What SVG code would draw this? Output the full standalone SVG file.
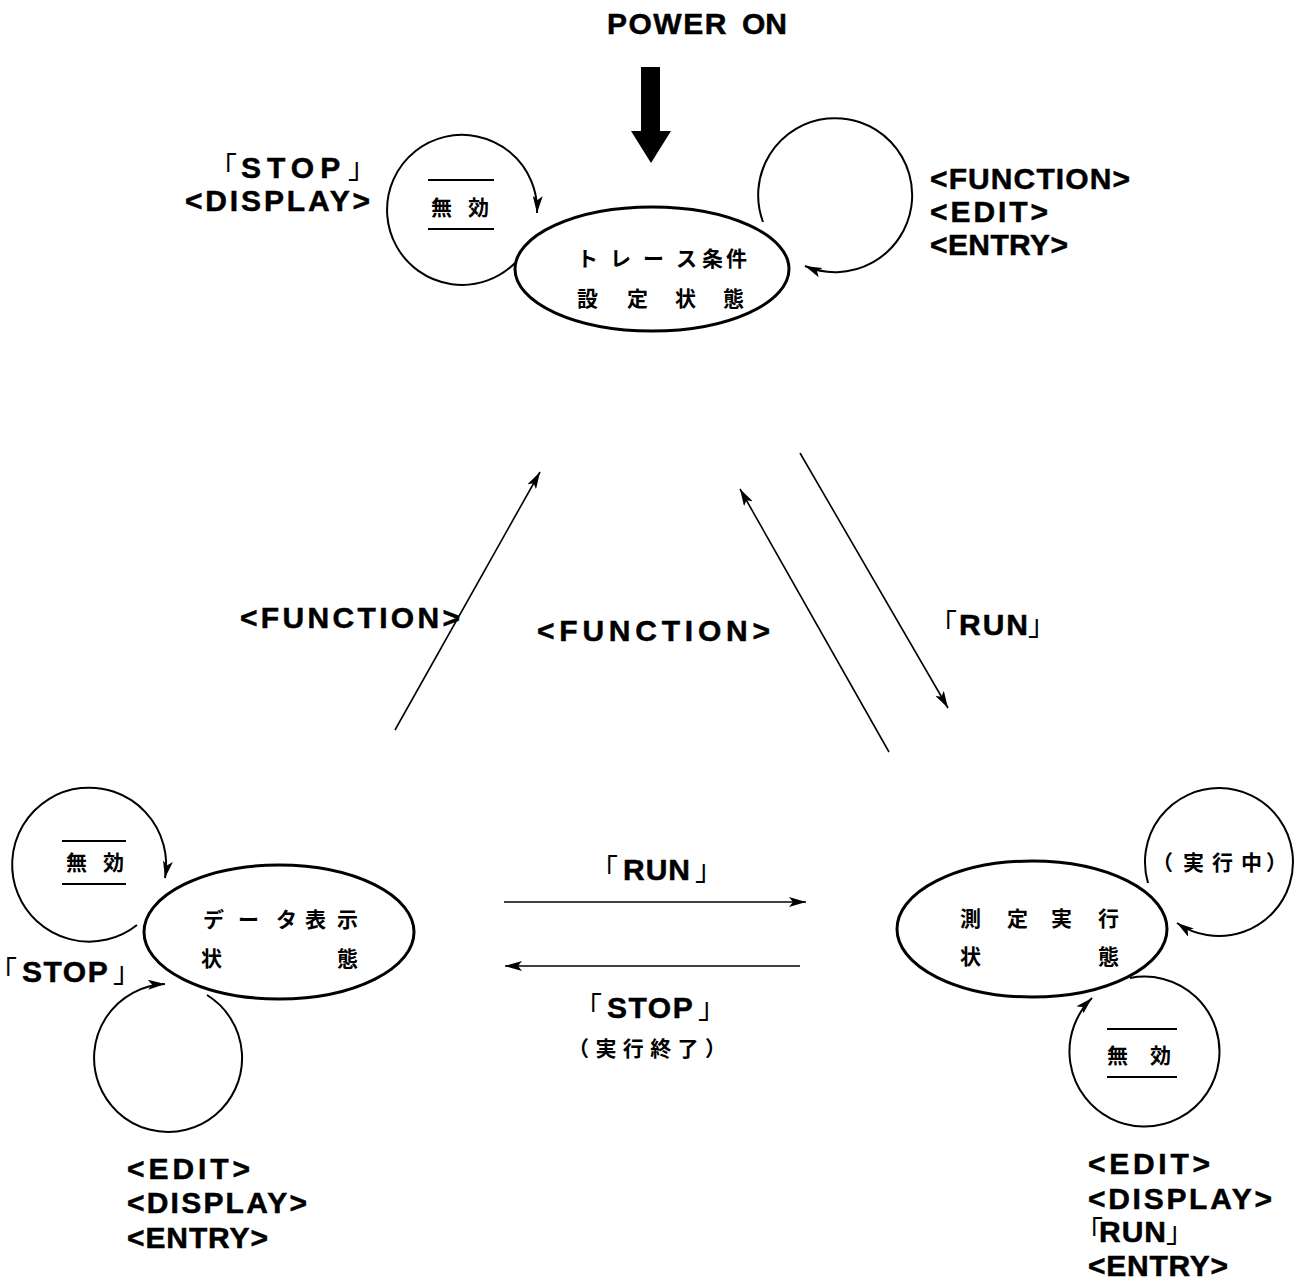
<svg xmlns="http://www.w3.org/2000/svg" width="1302" height="1282" viewBox="0 0 1302 1282">
  <style>
    .lbl { font-family: "Liberation Sans", "Noto Sans CJK JP", sans-serif; font-weight: bold; font-size: 30px; fill: #000; stroke: #000; stroke-width: 0.5; }
    .brk { font-family: "Noto Sans CJK JP", sans-serif; font-weight: normal; font-size: 28px; stroke: none; font-feature-settings: "halt"; }
    .jp { font-family: "Noto Sans CJK JP", sans-serif; font-weight: bold; font-size: 21px; fill: #000; }
    .state { fill: none; stroke: #000; stroke-width: 3; }
    .loop { fill: none; stroke: #000; stroke-width: 2; }
    .edge { fill: none; stroke: #000; stroke-width: 1.6; }
    .bar { stroke: #000; stroke-width: 2; }
  </style>
  <defs>
    <marker id="head" markerUnits="userSpaceOnUse" markerWidth="20" markerHeight="10" refX="17" refY="5" orient="auto">
      <path d="M0,0 L17,5 L0,10 L4,5 z" fill="#000"/>
    </marker>
  </defs>
  <rect width="1302" height="1282" fill="#fff"/>

  <!-- power-on entry -->
  <g id="power-on">
    <text class="lbl" font-size="27" y="34"><tspan x="607" letter-spacing="1.5">POWER</tspan><tspan x="742">ON</tspan></text>
    <path d="M641,67 H660 V131 H671 L651,163 L631,131 H641 Z" fill="#000"/>
  </g>

  <!-- trace condition setting state -->
  <g id="state-trace-setup">
    <ellipse class="state" cx="652" cy="269" rx="137" ry="62"/>
    <text class="jp"><tspan x="577" y="266">ト</tspan><tspan x="610" y="266">レ</tspan><tspan x="643" y="266">ー</tspan><tspan x="676" y="266">ス</tspan><tspan x="702" y="266">条</tspan><tspan x="726" y="266">件</tspan></text>
    <text class="jp"><tspan x="577" y="306">設</tspan><tspan x="627" y="306">定</tspan><tspan x="675" y="306">状</tspan><tspan x="723" y="306">態</tspan></text>
  </g>

  <!-- data display state -->
  <g id="state-data-display">
    <ellipse class="state" cx="279" cy="932" rx="135" ry="67"/>
    <text class="jp"><tspan x="203" y="927">デ</tspan><tspan x="238" y="927">ー</tspan><tspan x="276" y="927">タ</tspan><tspan x="305" y="927">表</tspan><tspan x="337" y="927">示</tspan></text>
    <text class="jp"><tspan x="201" y="966">状</tspan><tspan x="337" y="966">態</tspan></text>
  </g>

  <!-- measurement running state -->
  <g id="state-measuring">
    <ellipse class="state" cx="1032" cy="929" rx="135" ry="68"/>
    <text class="jp"><tspan x="960" y="926">測</tspan><tspan x="1007" y="926">定</tspan><tspan x="1051" y="926">実</tspan><tspan x="1098" y="926">行</tspan></text>
    <text class="jp"><tspan x="960" y="964">状</tspan><tspan x="1098" y="964">態</tspan></text>
  </g>

  <!-- self-loop annotations -->
  <g id="note-top-invalid">
    <line class="bar" x1="428" y1="180" x2="494" y2="180"/>
    <text class="jp"><tspan x="431" y="215">無</tspan><tspan x="468" y="215">効</tspan></text>
    <line class="bar" x1="428" y1="229" x2="494" y2="229"/>
  </g>
  <g id="note-left-invalid">
    <line class="bar" x1="62" y1="841" x2="126" y2="841"/>
    <text class="jp"><tspan x="66" y="870">無</tspan><tspan x="103" y="870">効</tspan></text>
    <line class="bar" x1="62" y1="884" x2="126" y2="884"/>
  </g>
  <g id="note-right-invalid">
    <line class="bar" x1="1107" y1="1029" x2="1177" y2="1029"/>
    <text class="jp"><tspan x="1107" y="1063">無</tspan><tspan x="1150" y="1063">効</tspan></text>
    <line class="bar" x1="1107" y1="1077" x2="1177" y2="1077"/>
  </g>
  <g id="note-running">
    <text class="jp"><tspan x="1152" y="870">（</tspan><tspan x="1183" y="870">実</tspan><tspan x="1212" y="870">行</tspan><tspan x="1241" y="870">中</tspan><tspan x="1266" y="870">）</tspan></text>
  </g>

  <!-- key labels -->
  <g id="labels">
    <text class="lbl" y="178"><tspan class="brk" x="223">「</tspan><tspan x="241" letter-spacing="6">STOP</tspan><tspan class="brk" x="348">」</tspan></text>
    <text class="lbl" x="185" y="211" textLength="185" lengthAdjust="spacing">&lt;DISPLAY&gt;</text>

    <text class="lbl" x="930" y="189" textLength="200" lengthAdjust="spacing">&lt;FUNCTION&gt;</text>
    <text class="lbl" x="930" y="222" textLength="118" lengthAdjust="spacing">&lt;EDIT&gt;</text>
    <text class="lbl" x="930" y="255" textLength="138" lengthAdjust="spacing">&lt;ENTRY&gt;</text>

    <text class="lbl" font-size="28" x="240" y="628" textLength="220" lengthAdjust="spacing">&lt;FUNCTION&gt;</text>
    <text class="lbl" font-size="28" x="537" y="641" textLength="233" lengthAdjust="spacing">&lt;FUNCTION&gt;</text>
    <text class="lbl" y="635"><tspan class="brk" x="943">「</tspan><tspan x="959" letter-spacing="2">RUN</tspan><tspan class="brk" x="1028">」</tspan></text>

    <text class="lbl" y="880"><tspan class="brk" x="604">「</tspan><tspan x="623" letter-spacing="1">RUN</tspan><tspan class="brk" x="695">」</tspan></text>
    <text class="lbl" y="1018"><tspan class="brk" x="588">「</tspan><tspan x="607" letter-spacing="1.5">STOP</tspan><tspan class="brk" x="698">」</tspan></text>
    <text class="jp" x="568" y="1056" textLength="158" lengthAdjust="spacing">（実行終了）</text>

    <text class="lbl" y="982"><tspan class="brk" x="3">「</tspan><tspan x="22" letter-spacing="1.5">STOP</tspan><tspan class="brk" x="113">」</tspan></text>

    <text class="lbl" x="127" y="1179" textLength="123" lengthAdjust="spacing">&lt;EDIT&gt;</text>
    <text class="lbl" x="127" y="1213" textLength="180" lengthAdjust="spacing">&lt;DISPLAY&gt;</text>
    <text class="lbl" x="127" y="1248" textLength="141" lengthAdjust="spacing">&lt;ENTRY&gt;</text>

    <text class="lbl" x="1088" y="1174" textLength="122" lengthAdjust="spacing">&lt;EDIT&gt;</text>
    <text class="lbl" x="1088" y="1209" textLength="184" lengthAdjust="spacing">&lt;DISPLAY&gt;</text>
    <text class="lbl" font-size="28" y="1242"><tspan class="brk" font-size="24" x="1089">「</tspan><tspan x="1099" letter-spacing="1">RUN</tspan><tspan class="brk" font-size="24" x="1166">」</tspan></text>
    <text class="lbl" x="1088" y="1276" textLength="140" lengthAdjust="spacing">&lt;ENTRY&gt;</text>
  </g>

  <!-- transitions -->
  <g id="connectors">
    <!-- self loops -->
    <path class="loop" d="M515,263 A75,75 0 1 1 537,213" marker-end="url(#head)"/>
    <path class="loop" d="M763,222 A77,77 0 1 1 805,266" marker-end="url(#head)"/>
    <path class="loop" d="M137,925 A77,77 0 1 1 165,878" marker-end="url(#head)"/>
    <path class="loop" d="M207,995 A74,74 0 1 1 165,984" marker-end="url(#head)"/>
    <path class="loop" d="M1148,883 A74,74 0 1 1 1177,923" marker-end="url(#head)"/>
    <path class="loop" d="M1130,978 A75,75 0 1 1 1092,998" marker-end="url(#head)"/>

    <!-- state-to-state -->
    <line class="edge" x1="395" y1="730" x2="540" y2="472" marker-end="url(#head)"/>
    <line class="edge" x1="889" y1="752" x2="740" y2="489" marker-end="url(#head)"/>
    <line class="edge" x1="800" y1="453" x2="948" y2="708" marker-end="url(#head)"/>
    <line class="edge" x1="504" y1="902" x2="806" y2="902" marker-end="url(#head)"/>
    <line class="edge" x1="800" y1="966" x2="505" y2="966" marker-end="url(#head)"/>
  </g>
</svg>
